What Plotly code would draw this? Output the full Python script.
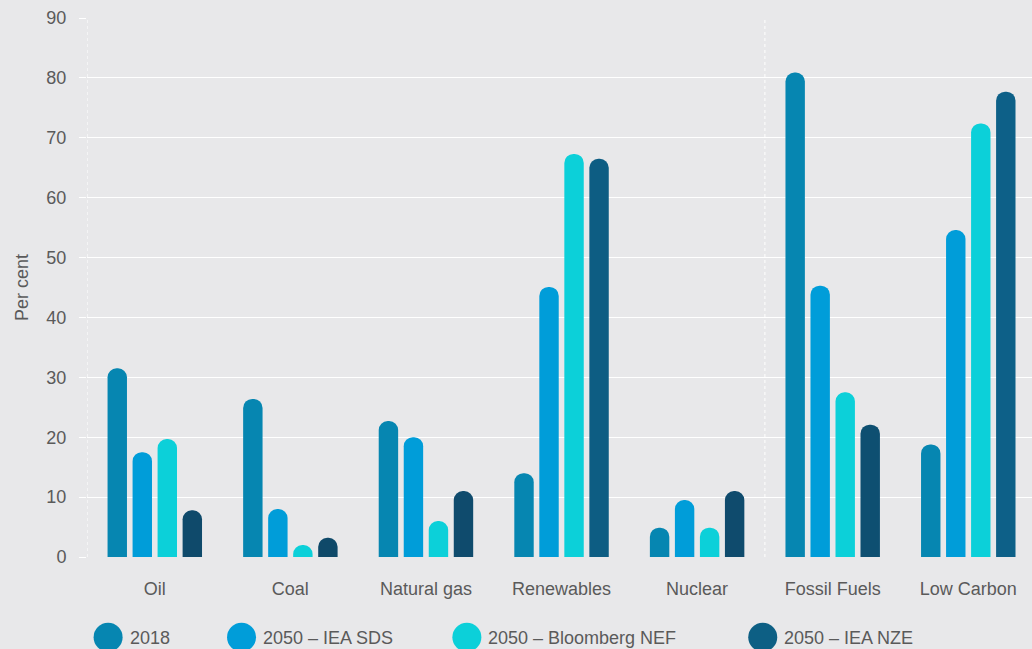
import plotly.graph_objects as go

categories = ["Oil", "Coal", "Natural gas", "Renewables", "Nuclear", "Fossil Fuels", "Low Carbon"]
series_names = ["2018", "2050 – IEA SDS", "2050 – Bloomberg NEF", "2050 – IEA NZE"]
values_2018 = [31.5, 26.4, 22.7, 14.0, 4.9, 80.9, 18.8]
values_sds = [17.5, 8.0, 20.0, 45.1, 9.5, 45.3, 54.6]
values_bnef = [19.7, 2.0, 6.0, 67.3, 4.9, 27.5, 72.4]
values_nze = [7.8, 3.2, 11.0, 66.5, 11.0, 22.1, 77.7]
y_ticks = [0, 10, 20, 30, 40, 50, 60, 70, 80, 90]

series_values = [values_2018, values_sds, values_bnef, values_nze]

BG = "#e8e8ea"
TXT = "#5a5a5a"
FONT = "Liberation Sans, Arial, sans-serif"


def nze_color(h):
    # approximate the vertical gradient (dark at base, lighter higher up)
    light = (10, 121, 168)
    dark = (15, 72, 104)
    t = min(max((h / 2.0) / 78.0, 0), 1)
    c = [round(d + (l - d) * t) for l, d in zip(light, dark)]
    return "rgb({},{},{})".format(*c)


colors = ["#0686b1", "#009dd9", "#0cd0d9", [nze_color(v) for v in values_nze]]
legend_colors = ["#0686b1", "#009dd9", "#0cd0d9", "#0d5f84"]

fig = go.Figure()
for name, vals, col in zip(series_names, series_values, colors):
    fig.add_trace(go.Bar(
        x=categories, y=vals, name=name,
        marker=dict(color=col, cornerradius=10, line=dict(width=0)),
        showlegend=False,
    ))

L, R, T, B = 87.2, 1032, 18.3, 556.7
W, H = R - L, B - T


def px(xp):
    return (xp - L) / W


def py(yp):
    return (B - yp) / H


shapes = []
# dotted left axis and group separator
for xv in [-0.5, 4.5]:
    shapes.append(dict(type="line", xref="x", yref="paper", x0=xv, x1=xv, y0=0, y1=1,
                       line=dict(color="white", width=1, dash="dot"), layer="below"))

annotations = []
legend_circle_x = [108.3, 241.7, 467.0, 762.8]
legend_text_x = [128.0, 260.7, 486.3, 781.7]
legend_y = 636.8
for name, col, cx, tx in zip(series_names, legend_colors, legend_circle_x, legend_text_x):
    shapes.append(dict(type="circle", xref="paper", yref="paper",
                       xsizemode="pixel", ysizemode="pixel",
                       xanchor=px(cx), yanchor=py(legend_y),
                       x0=-14.5, x1=14.5, y0=-14.5, y1=14.5,
                       fillcolor=col, line=dict(width=0)))
    annotations.append(dict(xref="paper", yref="paper", x=px(tx), y=py(legend_y + 1),
                            xanchor="left", yanchor="middle", showarrow=False,
                            text=name, font=dict(size=18, color=TXT, family=FONT)))

fig.update_layout(
    width=1032, height=649,
    margin=dict(l=L, r=0, t=T, b=649 - B, pad=0),
    paper_bgcolor=BG, plot_bgcolor=BG,
    barmode="group", bargap=0.262, bargroupgap=0.224,
    font=dict(family=FONT, size=18, color=TXT),
    shapes=shapes, annotations=annotations,
    showlegend=False,
    xaxis=dict(range=[-0.5, 6.47], showgrid=False, zeroline=False, showline=False,
               ticks="", tickfont=dict(size=18, color=TXT), ticklabelstandoff=19),
    yaxis=dict(range=[0, 90], tickvals=y_ticks, showgrid=True, gridcolor="white",
               gridwidth=1.3, zeroline=False, showline=False,
               ticks="outside", ticklen=7, tickcolor="white", tickwidth=1.3,
               ticklabelstandoff=9,
               tickfont=dict(size=18, color=TXT),
               title=dict(text="Per cent", font=dict(size=18, color=TXT), standoff=13)),
)

fig.write_html("out.html")
